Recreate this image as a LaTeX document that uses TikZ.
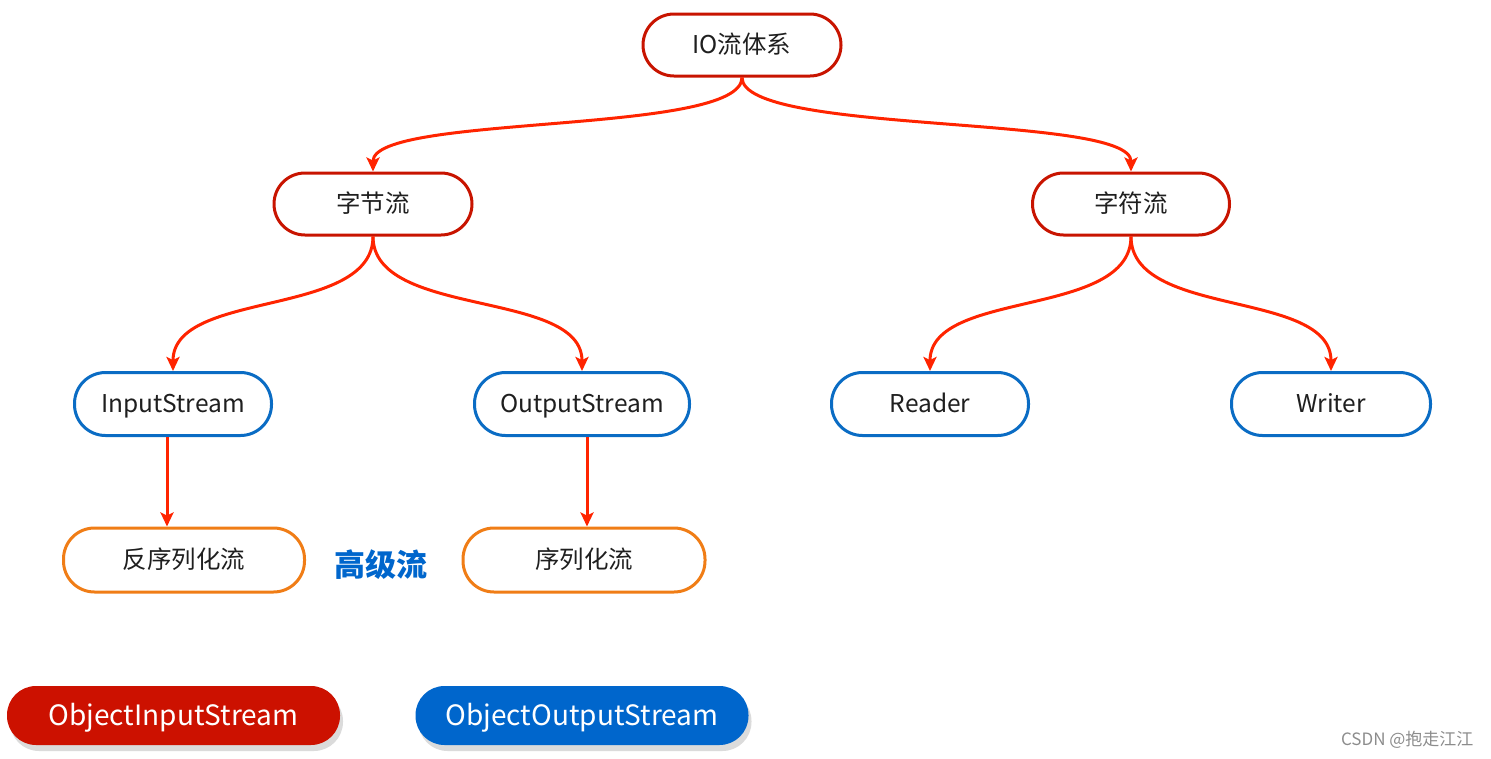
\documentclass[tikz,border=0pt]{standalone}
\usepackage{fontspec}
\setmainfont{Noto Sans CJK SC}
\usetikzlibrary{arrows.meta,shadows}
\definecolor{dred}{HTML}{C81400}
\definecolor{bblue}{HTML}{0A6CC4}
\definecolor{orng}{HTML}{F07D16}
\definecolor{ared}{HTML}{FF2400}
\definecolor{fred}{HTML}{CC1100}
\definecolor{fblue}{HTML}{0066CC}
\tikzset{
  pill/.style={rectangle, rounded corners=31pt, line width=3pt, fill=white,
    minimum height=62pt, inner sep=0pt, text=black!88,
    text height=19.5pt, text depth=2.5pt,
    font=\fontsize{24.5}{24.5}\selectfont},
  redpill/.style={pill, draw=dred},
  bluepill/.style={pill, draw=bblue},
  orpill/.style={pill, draw=orng},
  btn/.style={rectangle, rounded corners=29pt, minimum height=59pt, minimum width=333pt,
    inner sep=0pt, text=white, font=\fontsize{28}{28}\selectfont,
    text height=22pt, text depth=3pt,
    drop shadow={shadow xshift=3pt, shadow yshift=-6pt, fill=black!14, opacity=1}},
  arr/.style={draw=ared, line width=3pt, -{Stealth[length=14pt,width=13pt,inset=3pt]}},
}
\begin{document}
\begin{tikzpicture}[x=1pt,y=-1pt]
\useasboundingbox (0,0) rectangle (1491,758);
\node[redpill, minimum width=198pt] (io) at (742,45) {IO流体系};
\node[redpill, minimum width=198pt] (zj) at (373,204) {字节流};
\node[redpill, minimum width=197pt] (zf) at (1131,204) {字符流};
\node[bluepill, minimum width=197pt, minimum height=63pt] (in) at (173,404) {InputStream};
\node[bluepill, minimum width=215pt, minimum height=63pt] (out) at (582,404) {OutputStream};
\node[bluepill, minimum width=197pt, minimum height=63pt] (rd) at (930,404) {Reader};
\node[bluepill, minimum width=199pt, minimum height=63pt] (wr) at (1331,404) {Writer};
\node[orpill, minimum width=241pt, minimum height=64pt] (fan) at (184,560) {反序列化流};
\node[orpill, minimum width=242pt, minimum height=64pt] (ser) at (584,560) {序列化流};
\node[text=fblue, font=\fontsize{31}{31}\selectfont\bfseries] (gj) at (381,565) {高级流};
\node[btn, fill=fred] (ois) at (173.5,715.5) {ObjectInputStream};
\node[btn, fill=fblue] (oos) at (582,715.5) {ObjectOutputStream};
\node[text=black!45, font=\fontsize{17}{17}\selectfont, anchor=east] (wm) at (1477,740) {CSDN @抱走江江};

\draw[arr] (io.south) .. controls +(0,58) and +(0,-58) .. (zj.north);
\draw[arr] (io.south) .. controls +(0,58) and +(0,-58) .. (zf.north);
\draw[arr] (zj.south) .. controls +(0,82) and +(0,-82) .. (in.north);
\draw[arr] (zj.south) .. controls +(0,82) and +(0,-82) .. (out.north);
\draw[arr] (zf.south) .. controls +(0,82) and +(0,-82) .. (rd.north);
\draw[arr] (zf.south) .. controls +(0,82) and +(0,-82) .. (wr.north);
\draw[arr] ([xshift=-6pt]in.south) -- ([xshift=-6pt]in.south |- fan.north);
\draw[arr] ([xshift=5pt]out.south) -- ([xshift=5pt]out.south |- ser.north);
\end{tikzpicture}
\end{document}
